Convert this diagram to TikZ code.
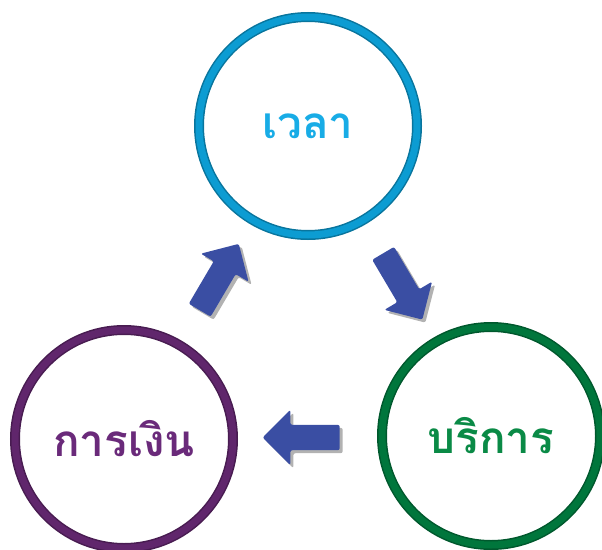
\documentclass[tikz,border=0pt]{standalone}
\usepackage{fontspec}
\newfontfamily\thaifont[Script=Thai]{Loma}
\usetikzlibrary{shapes.arrows,shadows,calc}

\definecolor{timeblue}{RGB}{12,156,210}
\definecolor{timetext}{RGB}{24,172,230}
\definecolor{moneypurple}{RGB}{96,38,108}
\definecolor{moneytext}{RGB}{106,42,122}
\definecolor{servicegreen}{RGB}{0,118,60}
\definecolor{servicetext}{RGB}{10,138,70}
\definecolor{arrowblue}{RGB}{58,78,163}

\tikzset{
  ring/.style={circle, draw=#1!75!black, line width=1.5pt, double=#1, double distance=7pt,
    minimum size=218pt, inner sep=0pt,
    font=\thaifont\bfseries\fontsize{44}{48}\selectfont},
  flowarrow/.style={single arrow, fill=arrowblue, draw=none, inner xsep=0pt, inner ysep=12.5pt,
    minimum height=77pt, single arrow head extend=15pt,
    single arrow head indent=0pt, rounded corners=2pt,
    drop shadow={shadow xshift=3pt, shadow yshift=-3pt, opacity=.3, fill=black}}
}

\begin{document}
\begin{tikzpicture}[x=1pt, y=-1pt]
	\useasboundingbox (0,0) rectangle (602,549);
	
	\node[ring=timeblue, text=timetext] (time) at (308,126) {เวลา};
	\node[ring=moneypurple, text=moneytext] (money) at (124,439) {การเงิน};
	\node[ring=servicegreen, text=servicetext] (service) at (491,436) {บริการ};
	
	\node[flowarrow, rotate=59.5] (toTime) at ($(money)!.5!(time)$) {};
	\node[flowarrow, rotate=-59.4] (toService) at ($(time)!.5!(service)$) {};
	\node[flowarrow, rotate=180] (toMoney) at ($(service)!.5!(money)$) {};
	
\end{tikzpicture}
\end{document}
